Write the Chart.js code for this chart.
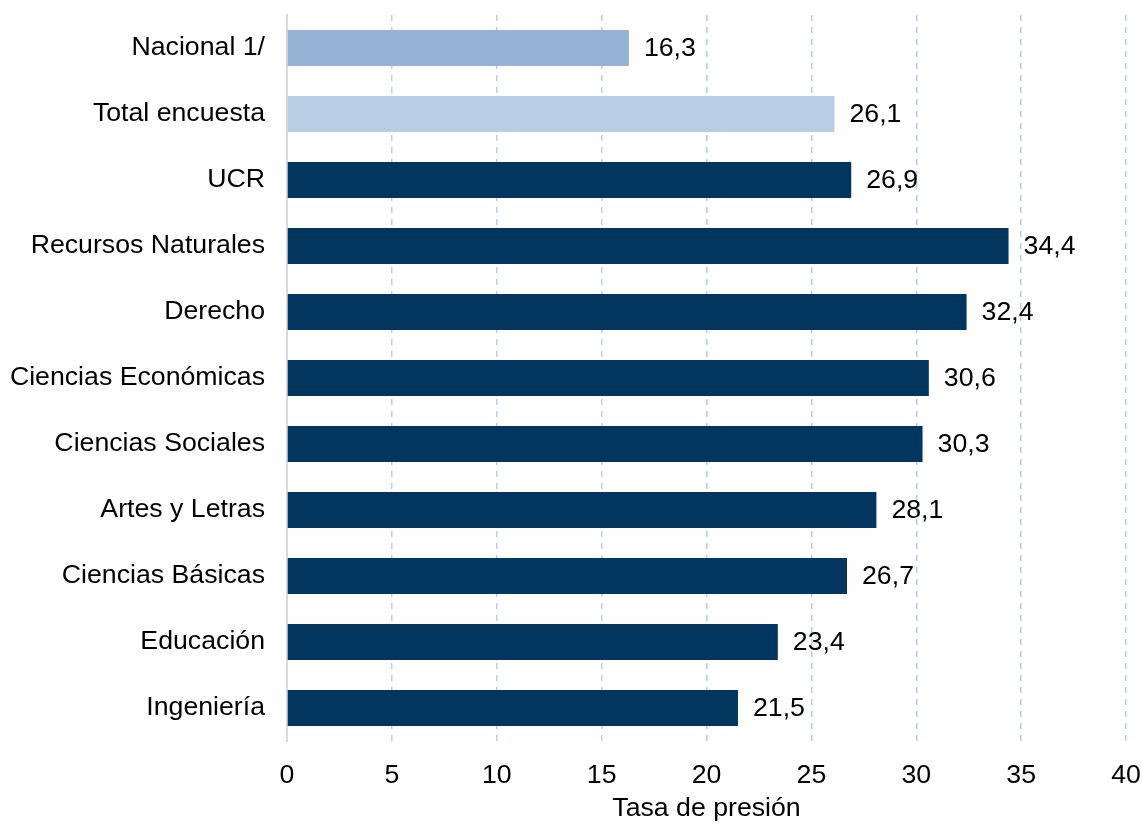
<!DOCTYPE html>
<html>
<head>
<meta charset="utf-8">
<script src="https://cdn.jsdelivr.net/npm/chart.js@4/dist/chart.umd.min.js"></script>
<style>
  html, body { margin: 0; padding: 0; background: #fff; }
  #wrap { width: 1142px; height: 825px; }
</style>
</head>
<body>
<div id="wrap"><canvas id="myChart"></canvas></div>
<script>
  var categorias = ['Nacional 1/', 'Total encuesta', 'UCR', 'Recursos Naturales', 'Derecho',
    'Ciencias Económicas', 'Ciencias Sociales', 'Artes y Letras', 'Ciencias Básicas',
    'Educación', 'Ingeniería'];
  var tasas = [16.3, 26.1, 26.9, 34.4, 32.4, 30.6, 30.3, 28.1, 26.7, 23.4, 21.5];
  var colores = ['#95b3d7', '#b9cde5', '#02365f', '#02365f', '#02365f', '#02365f',
    '#02365f', '#02365f', '#02365f', '#02365f', '#02365f'];
  var ejeX = [0, 5, 10, 15, 20, 25, 30, 35, 40];

  var fuente = "'Liberation Sans', Arial, sans-serif";
  var tam = 26.7;
  Chart.defaults.font.family = fuente;
  Chart.defaults.font.size = tam;
  Chart.defaults.color = '#000';

  // etiquetas con el valor al final de cada barra
  var etiquetas = {
    id: 'etiquetas',
    afterDatasetsDraw: function(chart) {
      var ctx = chart.ctx;
      var meta = chart.getDatasetMeta(0);
      ctx.save();
      ctx.font = tam + 'px ' + fuente;
      ctx.fillStyle = '#000';
      ctx.textAlign = 'left';
      ctx.textBaseline = 'middle';
      meta.data.forEach(function(bar, i) {
        ctx.fillText(tasas[i].toFixed(1).replace('.', ','), bar.x + 15, bar.y + 1);
      });
      ctx.restore();
    }
  };

  var ctx = document.getElementById('myChart').getContext('2d');
  var chart = new Chart(ctx, {
    type: 'bar',
    data: {
      labels: categorias,
      datasets: [{
        data: tasas,
        backgroundColor: colores,
        borderWidth: 0,
        categoryPercentage: 1,
        barPercentage: 0.545
      }]
    },
    plugins: [etiquetas],
    options: {
      indexAxis: 'y',
      responsive: true,
      maintainAspectRatio: false,
      animation: false,
      layout: { padding: { top: 15, right: 16, bottom: 0, left: 0 } },
      plugins: {
        legend: { display: false },
        tooltip: { enabled: false }
      },
      scales: {
        x: {
          min: 0,
          max: 40,
          afterBuildTicks: function(scale) {
            scale.ticks = ejeX.map(function(v) { return { value: v }; });
          },
          afterFit: function(scale) {
            scale.height = 84;
            scale.paddingLeft = 0;
            scale.paddingRight = 0;
          },
          grid: {
            drawTicks: false,
            color: function(c) { return c.tick && c.tick.value === 0 ? 'rgba(0,0,0,0)' : '#b9cde5'; },
            lineWidth: 1.5
          },
          border: { display: false, dash: [6, 6] },
          ticks: { padding: 19, font: { size: tam } },
          title: {
            display: true,
            text: 'Tasa de presión',
            font: { size: tam },
            padding: { top: 0, bottom: 0 }
          }
        },
        y: {
          afterFit: function(scale) {
            scale.width = 287;
            scale.paddingTop = 0;
            scale.paddingBottom = 0;
          },
          grid: { display: false, drawTicks: false },
          border: { display: true, color: '#d9d9d9', width: 2 },
          ticks: { padding: 22, font: { size: tam } }
        }
      }
    }
  });
</script>
</body>
</html>
